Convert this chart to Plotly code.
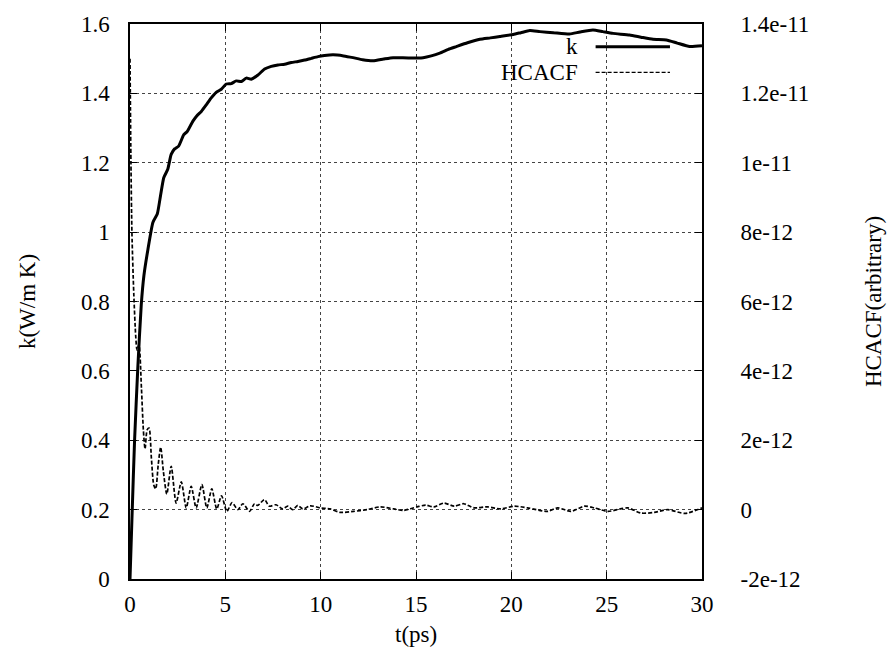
import plotly.graph_objects as go

# ---- data ----
k_t = [0, 0.1, 0.24, 0.41, 0.59, 0.73, 0.94, 1.2, 1.43, 1.6, 1.77, 1.98, 2.16, 2.34, 2.55,
       2.82, 3.0, 3.3, 3.5, 3.74, 4.0, 4.26, 4.52, 4.79, 5.05, 5.31, 5.57, 5.84, 6.1, 6.36,
       6.71, 7.06, 7.41, 7.76, 8.11, 8.46, 8.81, 9.16, 9.51, 9.86, 10.2, 10.65, 11.2, 11.7,
       12.2, 12.75, 13.3, 13.8, 14.6, 15.37, 15.8, 16.25, 16.7, 17.12, 17.7, 18.35, 18.9,
       19.4, 20.1, 20.5, 20.97, 21.5, 22.2, 23.05, 23.6, 24.28, 24.8, 25.33, 26.2, 26.8,
       27.43, 28.13, 28.7, 29.35, 30.0]
k_val = [0, 0.17, 0.40, 0.61, 0.79, 0.875, 0.95, 1.028, 1.052, 1.105, 1.157, 1.181, 1.224,
         1.24, 1.248, 1.281, 1.29, 1.32, 1.335, 1.348, 1.367, 1.387, 1.403, 1.412, 1.427,
         1.428, 1.436, 1.434, 1.444, 1.441, 1.453, 1.47, 1.478, 1.482, 1.484, 1.489, 1.492,
         1.496, 1.501, 1.506, 1.509, 1.511, 1.508, 1.503, 1.497, 1.494, 1.499, 1.503, 1.502,
         1.503, 1.508, 1.516, 1.527, 1.535, 1.546, 1.556, 1.56, 1.564, 1.570, 1.575, 1.581,
         1.578, 1.575, 1.571, 1.577, 1.583, 1.578, 1.573, 1.568, 1.562, 1.556, 1.554, 1.545,
         1.535, 1.537]

h_t = [0, 0.05, 0.1, 0.2, 0.3, 0.37, 0.47, 0.6, 0.7, 0.79, 0.9, 1.0, 1.12, 1.25, 1.35, 1.48,
       1.61, 1.75, 1.93, 2.16, 2.42, 2.69, 2.95, 3.21, 3.47, 3.77, 4.03, 4.29, 4.55, 4.8,
       5.08, 5.35, 5.66, 5.92, 6.27, 6.53, 6.7, 7.05, 7.31, 7.66, 8.01, 8.27, 8.53, 8.8,
       9.06, 9.46, 9.98, 10.5, 11.03, 11.73, 12.43, 13.13, 13.84, 14.36, 15.06, 15.5, 15.94,
       16.47, 17.0, 17.5, 18.05, 18.75, 19.45, 20.15, 20.85, 21.9, 22.43, 23.13, 23.83,
       24.36, 25.06, 26.1, 26.8, 27.5, 28.2, 29.1, 30.0]
# HCACF in units of 1e-12
h_val = [13.0, 10.0, 8.0, 6.2, 5.0, 4.6, 4.75, 3.5, 2.3, 1.75, 2.3, 2.35, 1.5, 0.7, 0.6, 1.3,
         1.8, 1.1, 0.45, 1.25, 0.19, 0.8, 0.05, 0.67, 0.05, 0.72, 0.05, 0.6, 0.02, 0.4,
         -0.05, 0.2, 0.0, 0.17, -0.05, 0.17, 0.12, 0.29, 0.1, 0.14, 0.02, 0.1, 0.0, 0.12,
         0.02, 0.11, 0.05, 0.02, -0.08, -0.05, 0.0, 0.08, 0.02, -0.02, 0.08, 0.13, 0.08,
         0.19, 0.1, 0.17, 0.05, 0.08, 0.02, 0.1, 0.05, -0.05, 0.05, -0.05, 0.1,
         0.05, -0.05, 0.05, -0.1, -0.08, 0.0, -0.11, 0.05]

x_ticks = [0, 5, 10, 15, 20, 25, 30]
y_ticks = [0, 0.2, 0.4, 0.6, 0.8, 1, 1.2, 1.4, 1.6]
y2_ticks = [-2, 0, 2, 4, 6, 8, 10, 12, 14]
y2_labels = ["-2e-12", "0", "2e-12", "4e-12", "6e-12", "8e-12", "1e-11", "1.2e-11", "1.4e-11"]

FONT = "Liberation Serif"
FS = 23
fig = go.Figure()
fig.add_trace(go.Scatter(x=k_t, y=k_val, mode="lines", name="k",
                         line=dict(color="black", width=3, shape="spline", smoothing=0.5),
                         showlegend=False))
fig.add_trace(go.Scatter(x=h_t, y=h_val, mode="lines", name="HCACF", yaxis="y2",
                         line=dict(color="black", width=1.7, dash="4px,2px", shape="spline",
                                   smoothing=0.7),
                         showlegend=False))

tickfont = dict(family=FONT, size=FS, color="black")
fig.update_layout(
    width=891, height=658,
    font=dict(family=FONT, size=FS, color="black"),
    margin=dict(l=130, r=189, t=21, b=79),
    paper_bgcolor="white", plot_bgcolor="white",
    showlegend=False,
)
fig.update_xaxes(range=[0, 30], tickvals=x_ticks, ticks="inside", ticklen=7, tickcolor="black",
                 showline=True, linecolor="black", linewidth=1.5, mirror="ticks",
                 tickfont=tickfont, ticklabelstandoff=4, zeroline=False,
                 showgrid=True, gridcolor="#444", gridwidth=1, griddash="dot")
fig.update_layout(
    yaxis=dict(range=[0, 1.6], tickvals=y_ticks, ticks="inside", ticklen=7, tickcolor="black",
               showline=True, linecolor="black", linewidth=1.5, mirror="ticks",
               tickfont=tickfont, ticklabelstandoff=14, zeroline=False,
               showgrid=True, gridcolor="#444", gridwidth=1, griddash="dot"),
    yaxis2=dict(range=[-2, 14], tickvals=y2_ticks, ticktext=y2_labels, overlaying="y",
                anchor="x", side="right", ticks="outside", ticklen=33,
                tickcolor="rgba(255,255,255,0)", showgrid=False, zeroline=False,
                tickfont=tickfont),
)

# axis titles
fig.add_annotation(text="t(ps)", xref="paper", yref="paper", x=0.5, y=-0.1,
                   yanchor="middle", showarrow=False, font=dict(family=FONT, size=FS, color="black"))
fig.add_annotation(text="k(W/m K)", xref="paper", yref="paper", x=-0.179, y=0.5,
                   textangle=-90, xanchor="center", yanchor="middle", showarrow=False,
                   font=dict(family=FONT, size=FS, color="black"))
fig.add_annotation(text="HCACF(arbitrary)", xref="paper", yref="paper", x=1.3, y=0.5,
                   textangle=-90, xanchor="center", yanchor="middle", showarrow=False,
                   font=dict(family=FONT, size=FS, color="black"))

# legend (gnuplot-style: label on left, sample on right)
leg = [("k", dict(color="black", width=3)), ("HCACF", dict(color="black", width=1.2, dash="4px,2px"))]
for i, (lab, ln) in enumerate(leg):
    yy = 0.959 - i * 0.046
    fig.add_annotation(text=lab, xref="paper", yref="paper", x=0.786, y=yy, xanchor="right",
                       yanchor="middle", showarrow=False,
                       font=dict(family=FONT, size=FS, color="black"))
    fig.add_shape(type="line", xref="paper", yref="paper", x0=0.814, x1=0.944, y0=yy, y1=yy,
                  line=ln)

fig.write_html("out.html")
